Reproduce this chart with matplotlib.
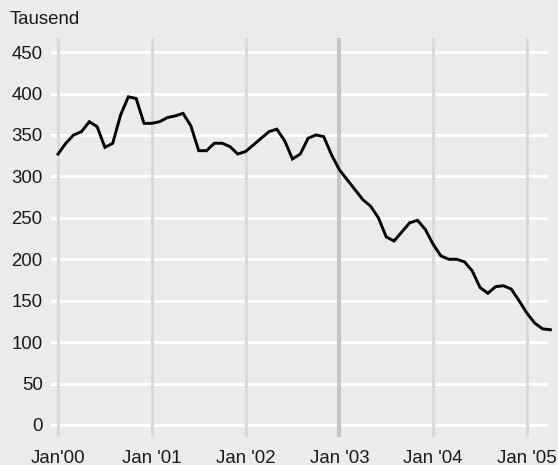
"""Monthly series in thousands, Jan 2000 - Apr 2005."""

import matplotlib
matplotlib.use("Agg")
import matplotlib.pyplot as plt

plt.rcParams["font.family"] = ["Liberation Sans", "DejaVu Sans"]

# monthly values (Tausend), Jan'00 .. Apr'05
values = [
    327, 340, 350, 354, 366, 360, 335, 340, 374, 396, 394, 364,   # 2000
    364, 366, 371, 373, 376, 361, 331, 331, 340, 340, 336, 327,   # 2001
    330, 338, 346, 354, 357, 343, 321, 327, 346, 350, 348, 326,   # 2002
    308, 296, 284, 272, 264, 250, 227, 222, 233, 244, 247, 236,   # 2003
    218, 204, 200, 200, 197, 186, 166, 159, 167, 168, 164, 150,   # 2004
    135, 123, 116, 115,                                           # 2005
]
months = list(range(len(values)))

year_ticks = [0, 12, 24, 36, 48, 60]
year_labels = ["Jan'00", "Jan '01", "Jan '02", "Jan '03", "Jan '04", "Jan '05"]
y_ticks = [0, 50, 100, 150, 200, 250, 300, 350, 400, 450]

BG = "#ebebeb"
TEXT = "#1a1a1a"

fig = plt.figure(figsize=(5.58, 4.65), dpi=100, facecolor=BG)
ax = fig.add_axes([51 / 558, 28 / 465, 497 / 558, 399 / 465])
ax.set_facecolor(BG)

# horizontal white grid
for y in y_ticks:
    ax.axhline(y, color="white", lw=2.2, zorder=1)

# vertical year markers, Jan '03 emphasised
for m in year_ticks:
    if m == 36:
        ax.axvline(m, color="#c6c6c6", lw=3.0, zorder=2)
    else:
        ax.axvline(m, color="#dadada", lw=2.2, zorder=2)

ax.plot(months, values, color="black", lw=2.1, zorder=3,
        solid_joinstyle="miter", clip_on=False)

ax.set_xlim(-0.9, 62.7)
ax.set_ylim(-14.5, 467)

ax.set_xticks(year_ticks)
ax.set_xticklabels(year_labels)
ax.set_yticks(y_ticks)
ax.tick_params(axis="both", length=0, labelsize=13.4, colors=TEXT)
ax.tick_params(axis="x", pad=9)
ax.tick_params(axis="y", pad=6)

for s in ax.spines.values():
    s.set_visible(False)

fig.text(10 / 558, 1 - 19 / 465, "Tausend", fontsize=13.4, color=TEXT,
         ha="left", va="center")

fig.savefig("out.png", dpi=100, facecolor=BG)
